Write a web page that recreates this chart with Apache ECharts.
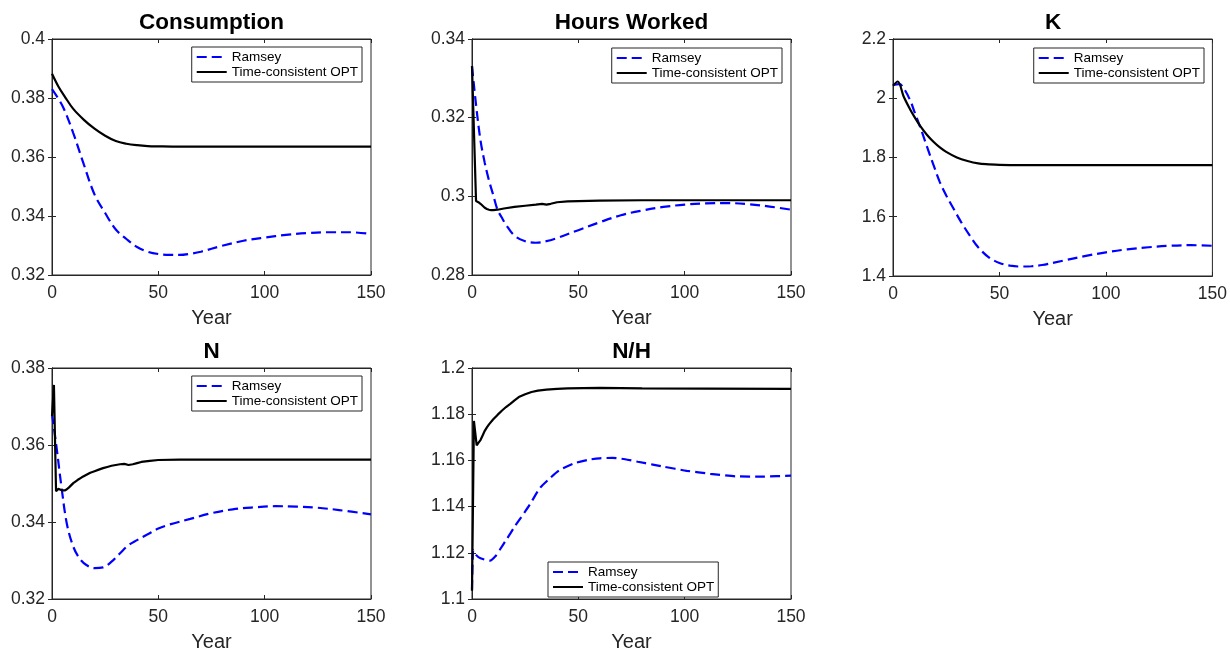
<!DOCTYPE html>
<html>
<head>
<meta charset="utf-8">
<title>Ramsey vs Time-consistent OPT</title>
<script src="https://cdn.jsdelivr.net/npm/echarts@6/dist/echarts.min.js"></script>
<style>
    html, body { margin: 0; padding: 0; background: #fff; }
    #chartBox { width: 1230px; height: 653px; }
</style>
</head>
<body>
<div id="chartBox"></div>
<script>
// values, year -> level
var consRamseyX = [0, 5, 10, 15, 20, 25, 30, 35, 40, 45, 50, 55, 60, 65, 70, 80, 90, 100, 110, 120, 130, 140, 150];
var consRamseyY = [0.383, 0.3772, 0.3681, 0.3574, 0.3473, 0.3410, 0.3354, 0.3322, 0.3295, 0.3279, 0.3271, 0.3268, 0.3268, 0.3272, 0.3279, 0.3299, 0.3316, 0.3327, 0.3336, 0.3342, 0.3345, 0.3345, 0.3339];
var consTcX = [0, 3, 6, 10, 15, 20, 25, 30, 35, 40, 45, 50, 60, 80, 150];
var consTcY = [0.3882, 0.3839, 0.3805, 0.3763, 0.3726, 0.3696, 0.3672, 0.3654, 0.3645, 0.3640, 0.3637, 0.3636, 0.3635, 0.3635, 0.3635];

var hoursRamseyX = [0, 2, 4, 6, 8, 10, 12, 14, 16, 20, 25, 30, 35, 40, 50, 60, 70, 80, 90, 100, 110, 120, 130, 140, 150];
var hoursRamseyY = [0.3331, 0.3228, 0.3142, 0.3085, 0.3040, 0.3003, 0.2966, 0.2946, 0.2928, 0.2900, 0.2886, 0.2882, 0.2886, 0.2894, 0.2914, 0.2934, 0.2952, 0.2964, 0.2973, 0.2979, 0.2982, 0.2983, 0.2980, 0.2974, 0.2966];
var hoursTcX = [0, 1, 1.9, 3, 4, 5, 6, 7, 8, 9, 10, 12, 15, 20, 25, 30, 33, 35, 37, 40, 45, 50, 60, 80, 150];
var hoursTcY = [0.3331, 0.3150, 0.2988, 0.2985, 0.2981, 0.2976, 0.2971, 0.2968, 0.2966, 0.2965, 0.2965, 0.2966, 0.2969, 0.2973, 0.2976, 0.2979, 0.2981, 0.2979, 0.2981, 0.2985, 0.2987, 0.2988, 0.2989, 0.2990, 0.2990];

var kRamseyX = [0, 3, 5, 8, 10, 13, 16, 19, 22, 25, 28, 32, 36, 40, 45, 50, 55, 60, 65, 70, 80, 90, 100, 110, 120, 130, 140, 150];
var kRamseyY = [2.045, 2.048, 2.034, 1.994, 1.956, 1.898, 1.836, 1.775, 1.717, 1.672, 1.633, 1.582, 1.537, 1.497, 1.463, 1.444, 1.435, 1.432, 1.433, 1.437, 1.452, 1.467, 1.480, 1.490, 1.497, 1.502, 1.504, 1.502];
var kTcX = [0, 2.2, 5, 8, 10, 13, 16, 19, 22, 25, 30, 35, 40, 45, 50, 60, 80, 150];
var kTcY = [2.042, 2.0565, 2.006, 1.963, 1.938, 1.904, 1.876, 1.853, 1.834, 1.819, 1.800, 1.788, 1.780, 1.777, 1.775, 1.774, 1.774, 1.774];

var nRamseyX = [0, 2, 4.5, 7, 10, 13, 16, 20, 24, 28, 32, 36, 40, 45, 50, 55, 65, 75, 85, 95, 105, 115, 125, 135, 150];
var nRamseyY = [0.368, 0.360, 0.3489, 0.3395, 0.3336, 0.3305, 0.3289, 0.3280, 0.3282, 0.3297, 0.3319, 0.3340, 0.3353, 0.3368, 0.3383, 0.3393, 0.3408, 0.3423, 0.3433, 0.3438, 0.3441, 0.3440, 0.3437, 0.3431, 0.3420];
var nTcX = [0, 0.9, 1.3, 1.9, 3, 4, 5, 6, 7, 8, 10, 12, 14, 16, 18, 20, 22, 24, 26, 28, 30, 32, 34, 36, 38, 40, 42, 46, 50, 60, 150];
var nTcY = [0.3675, 0.3756, 0.3756, 0.3480, 0.3486, 0.3484, 0.3482, 0.3482, 0.3485, 0.3490, 0.3501, 0.3509, 0.3516, 0.3522, 0.3528, 0.3532, 0.3536, 0.3540, 0.3543, 0.3546, 0.3548, 0.3550, 0.3551, 0.3548, 0.3550, 0.3553, 0.3556, 0.3559, 0.3561, 0.3562, 0.3562];

var nhRamseyX = [0, 0.6, 2, 4, 8.5, 11, 13, 16, 18, 20, 23, 27, 32, 37, 41, 48, 55, 60, 66, 72, 78, 85, 90, 101, 112, 124, 137, 150];
var nhRamseyY = [1.104, 1.1212, 1.119, 1.1176, 1.1166, 1.1185, 1.1212, 1.1255, 1.1283, 1.1313, 1.1352, 1.1406, 1.1481, 1.1526, 1.1557, 1.1587, 1.1603, 1.1609, 1.1611, 1.1605, 1.1594, 1.1582, 1.1573, 1.1555, 1.1542, 1.1531, 1.1530, 1.1534];
var nhTcX = [0, 0.9, 1.4, 2.2, 3, 4, 5, 6, 7, 8, 10, 12, 14, 16, 18, 20, 22, 25, 28, 31, 35, 40, 45, 60, 80, 110, 150];
var nhTcY = [1.1036, 1.1771, 1.1764, 1.1665, 1.1676, 1.1688, 1.1708, 1.1728, 1.1743, 1.1756, 1.1778, 1.1797, 1.1815, 1.1831, 1.1845, 1.1860, 1.1874, 1.1886, 1.1896, 1.1902, 1.1906, 1.1910, 1.1912, 1.1914, 1.1912, 1.1911, 1.1910];

var panelTitles = ['Consumption', 'Hours Worked', 'K', 'N', 'N/H'];
var yMins = [0.32, 0.28, 1.4, 0.32, 1.1];
var yMaxs = [0.4, 0.34, 2.2, 0.38, 1.2];
var ySteps = [0.02, 0.02, 0.2, 0.02, 0.02];
var xTicks = [0, 50, 150]; // min, step, max

var panels = [
    {rx: consRamseyX, ry: consRamseyY, tx: consTcX, ty: consTcY},
    {rx: hoursRamseyX, ry: hoursRamseyY, tx: hoursTcX, ty: hoursTcY},
    {rx: kRamseyX, ry: kRamseyY, tx: kTcX, ty: kTcY},
    {rx: nRamseyX, ry: nRamseyY, tx: nTcX, ty: nTcY},
    {rx: nhRamseyX, ry: nhRamseyY, tx: nhTcX, ty: nhTcY}
];
// curves with a jump at year 0-2 are drawn without smoothing
var smoothRamsey = [0.35, 0.35, 0.35, 0.35, 0.2];
var smoothTc = [0.35, 0, 0.35, 0, 0];

// layout of the five axes boxes (px)
var grids = [
    {left: 52, top: 39, width: 319, height: 236},
    {left: 472, top: 39, width: 319, height: 236},
    {left: 893, top: 39, width: 320, height: 237},
    {left: 52, top: 368, width: 319, height: 235},
    {left: 472, top: 368, width: 319, height: 235}
];
var legendPos = [
    {right: 868, top: 47},
    {right: 448, top: 48},
    {right: 26, top: 48},
    {right: 868, top: 376},
    {left: 548, top: 562}
];

var axisColor = '#262626';
var fontName = '"Liberation Sans", Arial, Helvetica, sans-serif';

function zip(xs, ys) {
    var out = [];
    for (var i = 0; i < xs.length; i++) {
        out.push([xs[i], ys[i]]);
    }
    return out;
}

var myChart1 = echarts.init(document.getElementById('chartBox'));
var option = {
    animation: false,
    backgroundColor: '#fff',
    textStyle: {fontFamily: fontName},
    title: [],
    grid: [],
    xAxis: [],
    yAxis: [],
    legend: [],
    series: []
};

for (var i = 0; i < panels.length; i++) {
    var g = grids[i];
    option.grid.push({
        left: g.left, top: g.top, width: g.width, height: g.height,
        show: true, borderColor: axisColor, borderWidth: 1, containLabel: false
    });
    option.title.push({
        text: panelTitles[i],
        left: g.left + g.width / 2 - 5,
        top: g.top - 33,
        textAlign: 'center',
        textStyle: {fontFamily: fontName, fontSize: 22.5, fontWeight: 'bold', color: '#000'}
    });
    // bottom + top x axes
    option.xAxis.push({
        gridIndex: i, type: 'value', min: xTicks[0], max: xTicks[2], interval: xTicks[1],
        name: 'Year', nameLocation: 'middle', nameGap: 33,
        nameTextStyle: {fontFamily: fontName, fontSize: 20, color: axisColor},
        axisLine: {lineStyle: {color: axisColor, width: 1}},
        axisTick: {inside: true, length: 4, lineStyle: {color: axisColor}},
        axisLabel: {fontFamily: fontName, fontSize: 17.5, color: axisColor, margin: 9},
        splitLine: {show: false}
    });
    option.xAxis.push({
        gridIndex: i, type: 'value', position: 'top', min: xTicks[0], max: xTicks[2], interval: xTicks[1],
        axisLine: {lineStyle: {color: axisColor, width: 1}},
        axisTick: {inside: true, length: 4, lineStyle: {color: axisColor}},
        axisLabel: {show: false},
        splitLine: {show: false}
    });
    // left + right y axes
    option.yAxis.push({
        gridIndex: i, type: 'value', position: 'left', min: yMins[i], max: yMaxs[i], interval: ySteps[i],
        axisLine: {show: true, lineStyle: {color: axisColor, width: 1}},
        axisTick: {show: true, inside: true, length: 4, lineStyle: {color: axisColor}},
        axisLabel: {fontFamily: fontName, fontSize: 17.5, color: axisColor, margin: 7},
        splitLine: {show: false}
    });
    option.yAxis.push({
        gridIndex: i, type: 'value', position: 'right', min: yMins[i], max: yMaxs[i], interval: ySteps[i],
        axisLine: {show: true, lineStyle: {color: axisColor, width: 1}},
        axisTick: {show: true, inside: true, length: 4, lineStyle: {color: axisColor}},
        axisLabel: {show: false},
        splitLine: {show: false}
    });

    var lp = legendPos[i];
    var leg = {
        top: lp.top, orient: 'vertical',
        data: ['Ramsey', 'Time-consistent OPT'],
        borderColor: axisColor, borderWidth: 1, backgroundColor: '#fff',
        padding: [3, 4, 3, 4], itemGap: 1, itemWidth: 30, itemHeight: 10,
        selectedMode: false,
        itemStyle: {opacity: 0},
        textStyle: {fontFamily: fontName, fontSize: 13.5, lineHeight: 14, color: '#000'}
    };
    if (lp.left !== undefined) leg.left = lp.left; else leg.right = lp.right;
    option.legend.push(leg);

    var p = panels[i];
    option.series.push({
        name: 'Ramsey', type: 'line', xAxisIndex: 2 * i, yAxisIndex: 2 * i,
        data: zip(p.rx, p.ry), showSymbol: false, symbol: 'none', smooth: smoothRamsey[i],
        lineStyle: {color: '#0000ff', width: 2.2, type: [10, 5]},
        itemStyle: {color: '#0000ff'}, z: 2
    });
    option.series.push({
        name: 'Time-consistent OPT', type: 'line', xAxisIndex: 2 * i, yAxisIndex: 2 * i,
        data: zip(p.tx, p.ty), showSymbol: false, symbol: 'none', smooth: smoothTc[i],
        lineStyle: {color: '#000000', width: 2.2},
        itemStyle: {color: '#000000'}, z: 3
    });
}

myChart1.setOption(option);
</script>
</body>
</html>
